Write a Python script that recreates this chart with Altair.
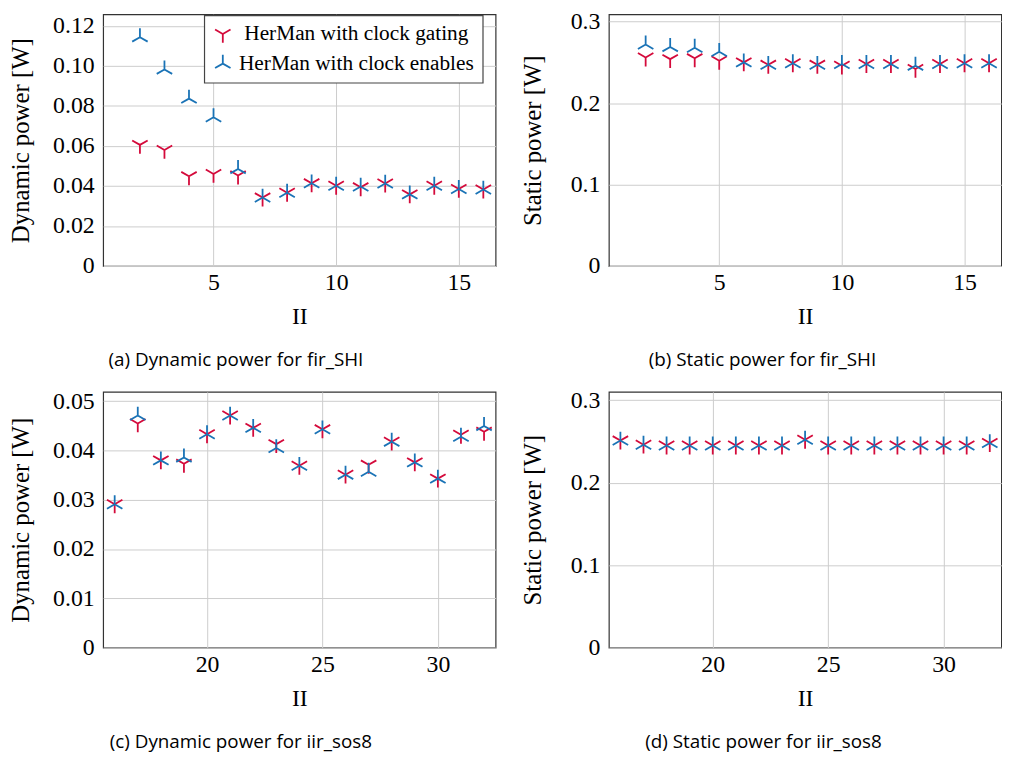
import altair as alt
import pandas as pd

SERIES = ["HerMan with clock gating", "HerMan with clock enables"]
COLORS = ["#d40a3b", "#1a73b6"]
# tri-down ("Y") and tri-up markers as stroked paths
SHAPES = ["M0,0L0,1M0,0L-0.866,-0.5M0,0L0.866,-0.5",
          "M0,0L0,-1M0,0L-0.866,0.5M0,0L0.866,0.5"]

II_FIR = [2, 3, 4, 5, 6, 7, 8, 9, 10, 11, 12, 13, 14, 15, 16]
FIR_DYN_GATING = [0.0605, 0.0580, 0.0448, 0.0460, 0.0452, 0.0342, 0.0366, 0.0413,
                  0.0401, 0.0393, 0.0412, 0.0358, 0.0401, 0.0385, 0.0382]
FIR_DYN_ENABLES = [0.1143, 0.0982, 0.0836, 0.0743, 0.0485, 0.0342, 0.0366, 0.0413,
                   0.0401, 0.0397, 0.0412, 0.0358, 0.0401, 0.0385, 0.0382]
FIR_STAT_GATING = [0.256, 0.254, 0.255, 0.252, 0.250, 0.247, 0.249, 0.247,
                   0.246, 0.248, 0.248, 0.242, 0.248, 0.249, 0.249]
FIR_STAT_ENABLES = [0.272, 0.269, 0.268, 0.263, 0.250, 0.247, 0.249, 0.247,
                    0.248, 0.248, 0.248, 0.246, 0.248, 0.249, 0.249]

II_IIR = [16, 17, 18, 19, 20, 21, 22, 23, 24, 25, 26, 27, 28, 29, 30, 31, 32]
IIR_DYN_GATING = [0.0291, 0.0455, 0.0380, 0.0373, 0.0433, 0.0471, 0.0446, 0.0413, 0.0369,
                  0.0443, 0.0351, 0.0371, 0.0418, 0.0376, 0.0343, 0.0432, 0.0438]
IIR_DYN_ENABLES = [0.0291, 0.0471, 0.0380, 0.0386, 0.0433, 0.0471, 0.0446, 0.0405, 0.0369,
                   0.0443, 0.0351, 0.0357, 0.0418, 0.0376, 0.0343, 0.0428, 0.0450]
IIR_STAT_GATING = [0.251, 0.246, 0.245, 0.245, 0.245, 0.245, 0.245, 0.245, 0.252,
                   0.245, 0.245, 0.245, 0.245, 0.245, 0.245, 0.245, 0.248]
IIR_STAT_ENABLES = [0.251, 0.246, 0.245, 0.245, 0.245, 0.245, 0.245, 0.245, 0.252,
                    0.245, 0.245, 0.245, 0.245, 0.245, 0.245, 0.245, 0.248]

CAPTIONS = ["(a) Dynamic power for fir_SHI", "(b) Static power for fir_SHI",
            "(c) Dynamic power for iir_sos8", "(d) Static power for iir_sos8"]

SERIF = "Liberation Serif"
SANS = "Open Sans"


def make_df(xs, g, e):
    return pd.DataFrame({
        "II": xs + xs,
        "P": g + e,
        "series": [SERIES[0]] * len(xs) + [SERIES[1]] * len(xs),
    })


def panel(df, xdom, xticks, ydom, yticks, ydec, ytitle, ytitlepad,
          caption, cap_dx, height, legend=None):
    label_expr = "datum.value == 0 ? '0' : format(datum.value, '.%df')" % ydec
    return alt.Chart(df).mark_point(
        filled=False, size=324, strokeWidth=1.8, opacity=1
    ).encode(
        x=alt.X("II:Q",
                scale=alt.Scale(domain=xdom, nice=False, zero=False),
                axis=alt.Axis(values=xticks, format="d", title="II",
                              labelFont=SERIF, labelFontSize=24, labelPadding=5,
                              titleFont=SERIF, titleFontSize=24, titlePadding=10)),
        y=alt.Y("P:Q",
                scale=alt.Scale(domain=ydom, nice=False, zero=True),
                axis=alt.Axis(values=yticks, labelExpr=label_expr, title=ytitle,
                              labelFont=SERIF, labelFontSize=24, labelPadding=9,
                              titleFont=SERIF, titleFontSize=25,
                              titlePadding=ytitlepad)),
        color=alt.Color("series:N", scale=alt.Scale(domain=SERIES, range=COLORS),
                        legend=legend),
        shape=alt.Shape("series:N", scale=alt.Scale(domain=SERIES, range=SHAPES),
                        legend=legend),
    ).properties(
        width=396, height=height,
        title=alt.TitleParams(caption, orient="bottom", anchor="middle", dx=cap_dx,
                              font=SANS, fontSize=19, fontWeight="normal",
                              color="black", offset=23),
    )


legend_a = alt.Legend(
    title=None, orient="none", legendX=102, legendY=1,
    fillColor="white", strokeColor="#444444", padding=8,
    labelFont=SERIF, labelFontSize=21.5, labelColor="black",
    labelAlign="center", labelOffset=124, labelLimit=400,
    rowPadding=4, symbolSize=324, symbolStrokeWidth=1.8,
)

pa = panel(make_df(II_FIR, FIR_DYN_GATING, FIR_DYN_ENABLES), [0.5, 16.5], [5, 10, 15],
           [0, 0.1257], [0, 0.02, 0.04, 0.06, 0.08, 0.10, 0.12], 2,
           "Dynamic power [W]", 19, CAPTIONS[0], -64, 254, legend_a)
pb = panel(make_df(II_FIR, FIR_STAT_GATING, FIR_STAT_ENABLES), [0.5, 16.5], [5, 10, 15],
           [0, 0.309], [0, 0.1, 0.2, 0.3], 1,
           "Static power [W]", 25, CAPTIONS[1], -43, 254)
pc = panel(make_df(II_IIR, IIR_DYN_GATING, IIR_DYN_ENABLES), [15.5, 32.5], [20, 25, 30],
           [0, 0.0519], [0, 0.01, 0.02, 0.03, 0.04, 0.05], 2,
           "Dynamic power [W]", 19, CAPTIONS[2], -59, 258)
pd_ = panel(make_df(II_IIR, IIR_STAT_GATING, IIR_STAT_ENABLES), [15.5, 32.5], [20, 25, 30],
            [0, 0.31], [0, 0.1, 0.2, 0.3], 1,
            "Static power [W]", 25, CAPTIONS[3], -42, 258)

chart = alt.concat(
    pa, pb, pc, pd_, columns=2,
    spacing={"row": 127, "column": 114.3}, bounds="flush", align="each",
).resolve_scale(
    color="independent", shape="independent", x="independent", y="independent"
).resolve_legend(
    color="independent", shape="independent"
).properties(
    padding={"top": -3, "left": 0, "right": 0, "bottom": 0}, background="white"
).configure_view(
    stroke="#333333", strokeWidth=1.2
).configure_axis(
    gridColor="#cccccc", gridWidth=1, ticks=False, domain=False,
    labelColor="black", titleColor="black", titleFontWeight="normal"
).configure_legend(
    strokeWidth=1.2
)

chart.save("out.html", embed_options={"renderer": "svg", "actions": False})
